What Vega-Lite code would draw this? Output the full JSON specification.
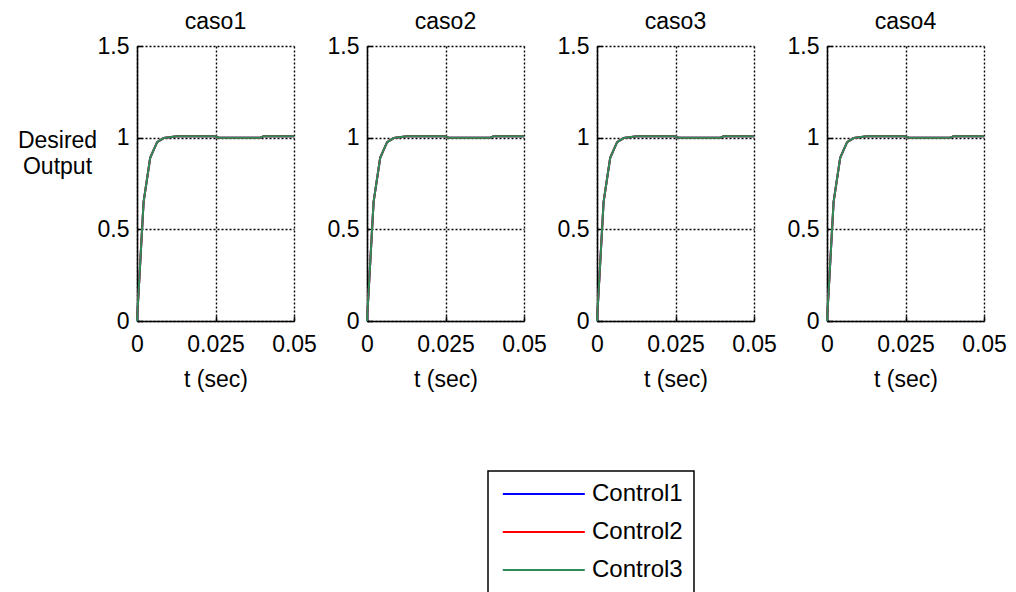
{
  "$schema": "https://vega.github.io/schema/vega-lite/v6.json",
  "padding": {"left": 17, "top": 11, "right": 5, "bottom": 5},
  "background": "white",
  "data": {"values": [
    {"caso":"caso1","c":"Control1","t":0,"y":0},{"caso":"caso1","c":"Control1","t":0.0021,"y":0.65},{"caso":"caso1","c":"Control1","t":0.0042,"y":0.89},{"caso":"caso1","c":"Control1","t":0.0064,"y":0.976},{"caso":"caso1","c":"Control1","t":0.0085,"y":0.998},{"caso":"caso1","c":"Control1","t":0.0127,"y":1.008},{"caso":"caso1","c":"Control1","t":0.0249,"y":1.008},{"caso":"caso1","c":"Control1","t":0.026,"y":1.0},{"caso":"caso1","c":"Control1","t":0.0393,"y":1.0},{"caso":"caso1","c":"Control1","t":0.0403,"y":1.008},{"caso":"caso1","c":"Control1","t":0.05,"y":1.008},
    {"caso":"caso1","c":"Control2","t":0,"y":0},{"caso":"caso1","c":"Control2","t":0.0021,"y":0.65},{"caso":"caso1","c":"Control2","t":0.0042,"y":0.89},{"caso":"caso1","c":"Control2","t":0.0064,"y":0.976},{"caso":"caso1","c":"Control2","t":0.0085,"y":0.998},{"caso":"caso1","c":"Control2","t":0.0127,"y":1.008},{"caso":"caso1","c":"Control2","t":0.0249,"y":1.008},{"caso":"caso1","c":"Control2","t":0.026,"y":1.0},{"caso":"caso1","c":"Control2","t":0.0393,"y":1.0},{"caso":"caso1","c":"Control2","t":0.0403,"y":1.008},{"caso":"caso1","c":"Control2","t":0.05,"y":1.008},
    {"caso":"caso1","c":"Control3","t":0,"y":0},{"caso":"caso1","c":"Control3","t":0.0021,"y":0.65},{"caso":"caso1","c":"Control3","t":0.0042,"y":0.89},{"caso":"caso1","c":"Control3","t":0.0064,"y":0.976},{"caso":"caso1","c":"Control3","t":0.0085,"y":0.998},{"caso":"caso1","c":"Control3","t":0.0127,"y":1.008},{"caso":"caso1","c":"Control3","t":0.0249,"y":1.008},{"caso":"caso1","c":"Control3","t":0.026,"y":1.0},{"caso":"caso1","c":"Control3","t":0.0393,"y":1.0},{"caso":"caso1","c":"Control3","t":0.0403,"y":1.008},{"caso":"caso1","c":"Control3","t":0.05,"y":1.008},
    {"caso":"caso2","c":"Control1","t":0,"y":0},{"caso":"caso2","c":"Control1","t":0.0021,"y":0.65},{"caso":"caso2","c":"Control1","t":0.0042,"y":0.89},{"caso":"caso2","c":"Control1","t":0.0064,"y":0.976},{"caso":"caso2","c":"Control1","t":0.0085,"y":0.998},{"caso":"caso2","c":"Control1","t":0.0127,"y":1.008},{"caso":"caso2","c":"Control1","t":0.0249,"y":1.008},{"caso":"caso2","c":"Control1","t":0.026,"y":1.0},{"caso":"caso2","c":"Control1","t":0.0393,"y":1.0},{"caso":"caso2","c":"Control1","t":0.0403,"y":1.008},{"caso":"caso2","c":"Control1","t":0.05,"y":1.008},
    {"caso":"caso2","c":"Control2","t":0,"y":0},{"caso":"caso2","c":"Control2","t":0.0021,"y":0.65},{"caso":"caso2","c":"Control2","t":0.0042,"y":0.89},{"caso":"caso2","c":"Control2","t":0.0064,"y":0.976},{"caso":"caso2","c":"Control2","t":0.0085,"y":0.998},{"caso":"caso2","c":"Control2","t":0.0127,"y":1.008},{"caso":"caso2","c":"Control2","t":0.0249,"y":1.008},{"caso":"caso2","c":"Control2","t":0.026,"y":1.0},{"caso":"caso2","c":"Control2","t":0.0393,"y":1.0},{"caso":"caso2","c":"Control2","t":0.0403,"y":1.008},{"caso":"caso2","c":"Control2","t":0.05,"y":1.008},
    {"caso":"caso2","c":"Control3","t":0,"y":0},{"caso":"caso2","c":"Control3","t":0.0021,"y":0.65},{"caso":"caso2","c":"Control3","t":0.0042,"y":0.89},{"caso":"caso2","c":"Control3","t":0.0064,"y":0.976},{"caso":"caso2","c":"Control3","t":0.0085,"y":0.998},{"caso":"caso2","c":"Control3","t":0.0127,"y":1.008},{"caso":"caso2","c":"Control3","t":0.0249,"y":1.008},{"caso":"caso2","c":"Control3","t":0.026,"y":1.0},{"caso":"caso2","c":"Control3","t":0.0393,"y":1.0},{"caso":"caso2","c":"Control3","t":0.0403,"y":1.008},{"caso":"caso2","c":"Control3","t":0.05,"y":1.008},
    {"caso":"caso3","c":"Control1","t":0,"y":0},{"caso":"caso3","c":"Control1","t":0.0021,"y":0.65},{"caso":"caso3","c":"Control1","t":0.0042,"y":0.89},{"caso":"caso3","c":"Control1","t":0.0064,"y":0.976},{"caso":"caso3","c":"Control1","t":0.0085,"y":0.998},{"caso":"caso3","c":"Control1","t":0.0127,"y":1.008},{"caso":"caso3","c":"Control1","t":0.0249,"y":1.008},{"caso":"caso3","c":"Control1","t":0.026,"y":1.0},{"caso":"caso3","c":"Control1","t":0.0393,"y":1.0},{"caso":"caso3","c":"Control1","t":0.0403,"y":1.008},{"caso":"caso3","c":"Control1","t":0.05,"y":1.008},
    {"caso":"caso3","c":"Control2","t":0,"y":0},{"caso":"caso3","c":"Control2","t":0.0021,"y":0.65},{"caso":"caso3","c":"Control2","t":0.0042,"y":0.89},{"caso":"caso3","c":"Control2","t":0.0064,"y":0.976},{"caso":"caso3","c":"Control2","t":0.0085,"y":0.998},{"caso":"caso3","c":"Control2","t":0.0127,"y":1.008},{"caso":"caso3","c":"Control2","t":0.0249,"y":1.008},{"caso":"caso3","c":"Control2","t":0.026,"y":1.0},{"caso":"caso3","c":"Control2","t":0.0393,"y":1.0},{"caso":"caso3","c":"Control2","t":0.0403,"y":1.008},{"caso":"caso3","c":"Control2","t":0.05,"y":1.008},
    {"caso":"caso3","c":"Control3","t":0,"y":0},{"caso":"caso3","c":"Control3","t":0.0021,"y":0.65},{"caso":"caso3","c":"Control3","t":0.0042,"y":0.89},{"caso":"caso3","c":"Control3","t":0.0064,"y":0.976},{"caso":"caso3","c":"Control3","t":0.0085,"y":0.998},{"caso":"caso3","c":"Control3","t":0.0127,"y":1.008},{"caso":"caso3","c":"Control3","t":0.0249,"y":1.008},{"caso":"caso3","c":"Control3","t":0.026,"y":1.0},{"caso":"caso3","c":"Control3","t":0.0393,"y":1.0},{"caso":"caso3","c":"Control3","t":0.0403,"y":1.008},{"caso":"caso3","c":"Control3","t":0.05,"y":1.008},
    {"caso":"caso4","c":"Control1","t":0,"y":0},{"caso":"caso4","c":"Control1","t":0.0021,"y":0.65},{"caso":"caso4","c":"Control1","t":0.0042,"y":0.89},{"caso":"caso4","c":"Control1","t":0.0064,"y":0.976},{"caso":"caso4","c":"Control1","t":0.0085,"y":0.998},{"caso":"caso4","c":"Control1","t":0.0127,"y":1.008},{"caso":"caso4","c":"Control1","t":0.0249,"y":1.008},{"caso":"caso4","c":"Control1","t":0.026,"y":1.0},{"caso":"caso4","c":"Control1","t":0.0393,"y":1.0},{"caso":"caso4","c":"Control1","t":0.0403,"y":1.008},{"caso":"caso4","c":"Control1","t":0.05,"y":1.008},
    {"caso":"caso4","c":"Control2","t":0,"y":0},{"caso":"caso4","c":"Control2","t":0.0021,"y":0.65},{"caso":"caso4","c":"Control2","t":0.0042,"y":0.89},{"caso":"caso4","c":"Control2","t":0.0064,"y":0.976},{"caso":"caso4","c":"Control2","t":0.0085,"y":0.998},{"caso":"caso4","c":"Control2","t":0.0127,"y":1.008},{"caso":"caso4","c":"Control2","t":0.0249,"y":1.008},{"caso":"caso4","c":"Control2","t":0.026,"y":1.0},{"caso":"caso4","c":"Control2","t":0.0393,"y":1.0},{"caso":"caso4","c":"Control2","t":0.0403,"y":1.008},{"caso":"caso4","c":"Control2","t":0.05,"y":1.008},
    {"caso":"caso4","c":"Control3","t":0,"y":0},{"caso":"caso4","c":"Control3","t":0.0021,"y":0.65},{"caso":"caso4","c":"Control3","t":0.0042,"y":0.89},{"caso":"caso4","c":"Control3","t":0.0064,"y":0.976},{"caso":"caso4","c":"Control3","t":0.0085,"y":0.998},{"caso":"caso4","c":"Control3","t":0.0127,"y":1.008},{"caso":"caso4","c":"Control3","t":0.0249,"y":1.008},{"caso":"caso4","c":"Control3","t":0.026,"y":1.0},{"caso":"caso4","c":"Control3","t":0.0393,"y":1.0},{"caso":"caso4","c":"Control3","t":0.0403,"y":1.008},{"caso":"caso4","c":"Control3","t":0.05,"y":1.008}
  ]},
  "spacing": 73,
  "bounds": "flush",
  "hconcat": [
    {
      "width": 157, "height": 275,
      "title": "caso1",
      "transform": [{"filter": "datum.caso == 'caso1'"}],
      "mark": {"type": "line", "strokeWidth": 2},
      "encoding": {
        "x": {"field": "t", "type": "quantitative", "scale": {"domain": [0, 0.05], "nice": false, "zero": false}, "axis": {"values": [0, 0.025, 0.05], "format": ".3~f", "title": "t (sec)"}},
        "y": {"field": "y", "type": "quantitative", "scale": {"domain": [0, 1.5], "nice": false}, "axis": {"values": [0, 0.5, 1, 1.5], "format": ".1~f", "title": ["Desired", "Output"], "titleAngle": 0, "titleAlign": "center", "titleBaseline": "middle", "titleX": -80, "titleY": 94, "titleLineHeight": 26}},
        "color": {"field": "c", "type": "nominal", "scale": {"domain": ["Control1", "Control2", "Control3"], "range": ["#0000ff", "#ff0000", "#2e8b57"]},
          "legend": {"orient": "none", "legendX": 351, "legendY": 425, "title": null}}
      }
    },
    {
      "width": 157, "height": 275,
      "title": "caso2",
      "transform": [{"filter": "datum.caso == 'caso2'"}],
      "mark": {"type": "line", "strokeWidth": 2},
      "encoding": {
        "x": {"field": "t", "type": "quantitative", "scale": {"domain": [0, 0.05], "nice": false, "zero": false}, "axis": {"values": [0, 0.025, 0.05], "format": ".3~f", "title": "t (sec)"}},
        "y": {"field": "y", "type": "quantitative", "scale": {"domain": [0, 1.5], "nice": false}, "axis": {"values": [0, 0.5, 1, 1.5], "format": ".1~f", "title": null}},
        "color": {"field": "c", "type": "nominal"}
      }
    },
    {
      "width": 157, "height": 275,
      "title": "caso3",
      "transform": [{"filter": "datum.caso == 'caso3'"}],
      "mark": {"type": "line", "strokeWidth": 2},
      "encoding": {
        "x": {"field": "t", "type": "quantitative", "scale": {"domain": [0, 0.05], "nice": false, "zero": false}, "axis": {"values": [0, 0.025, 0.05], "format": ".3~f", "title": "t (sec)"}},
        "y": {"field": "y", "type": "quantitative", "scale": {"domain": [0, 1.5], "nice": false}, "axis": {"values": [0, 0.5, 1, 1.5], "format": ".1~f", "title": null}},
        "color": {"field": "c", "type": "nominal"}
      }
    },
    {
      "width": 157, "height": 275,
      "title": "caso4",
      "transform": [{"filter": "datum.caso == 'caso4'"}],
      "mark": {"type": "line", "strokeWidth": 2},
      "encoding": {
        "x": {"field": "t", "type": "quantitative", "scale": {"domain": [0, 0.05], "nice": false, "zero": false}, "axis": {"values": [0, 0.025, 0.05], "format": ".3~f", "title": "t (sec)"}},
        "y": {"field": "y", "type": "quantitative", "scale": {"domain": [0, 1.5], "nice": false}, "axis": {"values": [0, 0.5, 1, 1.5], "format": ".1~f", "title": null}},
        "color": {"field": "c", "type": "nominal"}
      }
    }
  ],
  "config": {
    "font": "Liberation Sans",
    "view": {"stroke": null},
    "title": {"fontSize": 23, "fontWeight": "normal", "color": "black", "font": "Liberation Sans", "anchor": "middle", "offset": 1},
    "axis": {
      "labelFont": "Liberation Sans", "labelFontSize": 23, "labelColor": "black",
      "titleFont": "Liberation Sans", "titleFontSize": 23, "titleFontWeight": "normal", "titleColor": "black",
      "domainColor": "black", "domainWidth": 1.5,
      "ticks": true, "tickColor": "black", "tickSize": -5, "tickWidth": 1.5,
      "grid": true, "gridColor": "black", "gridOpacity": 1, "gridDash": [2, 2], "gridWidth": 1.4,
      "labelFlush": false, "labelOverlap": false, "labelBound": false
    },
    "axisX": {"labelPadding": 17, "titlePadding": 12},
    "axisY": {"labelPadding": 13},
    "legend": {
      "symbolType": "M-1,0H9", "symbolSize": 269, "symbolStrokeWidth": 2,
      "labelFont": "Liberation Sans", "labelFontSize": 24, "labelColor": "black", "labelOffset": 69,
      "padding": 11, "rowPadding": 14, "strokeColor": "black", "strokeWidth": 1.5, "fillColor": "white"
    }
  }
}
